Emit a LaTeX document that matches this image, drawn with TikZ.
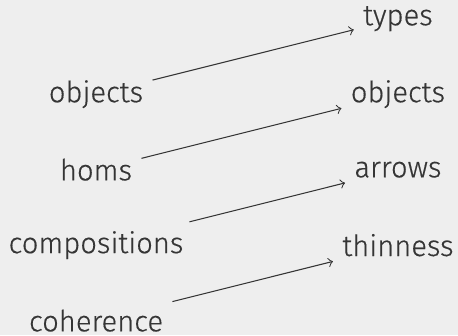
\documentclass[tikz,border=0pt]{standalone}
\usepackage{fontspec}
\setmainfont{Fira Sans}[UprightFont={* Light}, FakeBold=0.4]
\definecolor{slidebg}{HTML}{EEEEEE}
\definecolor{slidetext}{HTML}{353535}

\begin{document}
\begin{tikzpicture}[
  x=1cm, y=1cm,
  lbl/.style={font=\fontsize{11}{13}\selectfont, text=slidetext},
  arr/.style={->, slidetext}
]
\useasboundingbox (-1.272,-0.19) rectangle (4.795,4.248);
\fill[slidebg] (-1.272,-0.19) rectangle (4.795,4.248);

% what a category has
\node[lbl] (objs) at (0,3) {objects};
\node[lbl] (homs) at (0,2) {homs};
\node[lbl] (comp) at (0,1) {compositions};
\node[lbl] (coh) at (0,0) {coherence};

% what it becomes
\node[lbl] (types) at (4,4) {types};
\node[lbl] (objsb) at (4,3) {objects};
\node[lbl] (arrows) at (4,2) {arrows};
\node[lbl] (thin) at (4,1) {thinness};

\draw[arr] (objs) -- (types);
\draw[arr] (homs) -- (objsb);
\draw[arr] (comp) -- (arrows);
\draw[arr] (coh) -- (thin);
\end{tikzpicture}
\end{document}
